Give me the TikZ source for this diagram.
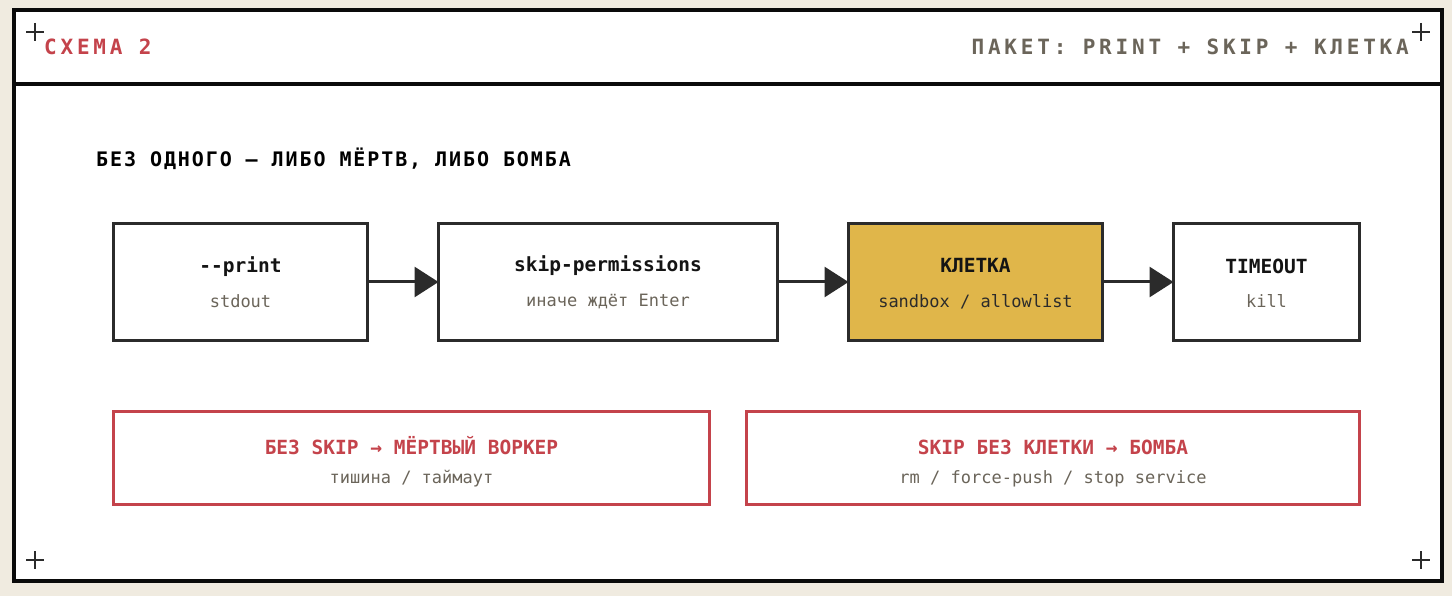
\documentclass[tikz,border=0pt]{standalone}
\usepackage{fontspec}
\setmonofont{DejaVu Sans Mono}
\newfontfamily\hdrfont[LetterSpace=18]{DejaVu Sans Mono}
\newfontfamily\leadfont[LetterSpace=9.5]{DejaVu Sans Mono}
\usetikzlibrary{arrows.meta,positioning}
\definecolor{paper}{HTML}{F0EBE0}
\definecolor{ink}{HTML}{2B2B2B}
\definecolor{warnred}{HTML}{C4434B}
\definecolor{muted}{HTML}{6B655A}
\definecolor{cage}{HTML}{E0B64A}
\newcommand{\stage}[3][17pt]{{\rule{0pt}{#1}\fontsize{19.5}{23}\selectfont\bfseries\color{black!92}#2}\\#3}

\begin{document}
\begin{tikzpicture}[
  x=1pt, y=-1pt,
  node distance=71pt and 71pt,
  box/.style={draw=ink, line width=3pt, fill=white, outer sep=0pt, align=center,
    text=muted, font=\ttfamily\fontsize{17}{35}\selectfont, minimum height=117},
  warn/.style={draw=warnred, line width=3pt, fill=white, outer sep=0pt, align=center,
    text=muted, font=\ttfamily\fontsize{17}{29}\selectfont, minimum height=93},
  arr/.style={-{Triangle[length=24pt,width=30pt]}, line width=3pt, draw=ink},
  corner/.style={line width=2pt, draw=ink}
]
  % paper and frame
  \fill[paper] (0,0) rectangle (1452,596);
  \useasboundingbox (0,0) rectangle (1452,596);
  \draw[line width=4pt, fill=white, draw=black!96] (13.5,10.5) rectangle (1441.5,581);
  \draw[line width=4pt, draw=black!96] (13.5,84.5) -- (1441.5,84.5);
  \foreach \cx/\cy in {35/32, 1421/32, 35/560, 1421/560}
    \draw[corner] (\cx-9,\cy) -- (\cx+9,\cy) (\cx,\cy-9) -- (\cx,\cy+9);

  % header
  \node[anchor=base west, inner sep=0pt, text=warnred, font=\hdrfont\bfseries\fontsize{21}{24}\selectfont]
    (scheme) at (44,55) {СХЕМА 2};
  \node[anchor=base east, inner sep=0pt, text=muted, font=\hdrfont\bfseries\fontsize{21}{24}\selectfont]
    (pack) at (1409,55) {ПАКЕТ: PRINT + SKIP + КЛЕТКА};
  \node[anchor=base west, inner sep=0pt, font=\leadfont\bfseries\fontsize{20}{24}\selectfont]
    (lead) at (96,167) {БЕЗ ОДНОГО — ЛИБО МЁРТВ, ЛИБО БОМБА};

  % pipeline
  \node[box, minimum width=254] (print) at (240.5,282) {\stage{-{}-print}{stdout}};
  \node[box, minimum width=339, right=of print] (skip) {\stage{skip-permissions}{иначе ждёт Enter}};
  \node[box, minimum width=254, fill=cage, right=of skip] (cage) {\stage{КЛЕТКА}{\color{ink}sandbox / allowlist}};
  \node[box, minimum width=186, right=of cage] (tmo) {\stage{TIMEOUT}{kill}};
  \draw[arr] (print) -- (skip);
  \draw[arr] (skip) -- (cage);
  \draw[arr] (cage) -- (tmo);

  % failure modes
  \node[warn, minimum width=596, below=71pt of print.south west, anchor=north west] (dead)
    {\stage[25pt]{\color{warnred}БЕЗ SKIP → МЁРТВЫЙ ВОРКЕР}{тишина / таймаут}};
  \node[warn, minimum width=613, right=37pt of dead] (bomb)
    {\stage[25pt]{\color{warnred}SKIP БЕЗ КЛЕТКИ → БОМБА}{rm / force-push / stop service}};
\end{tikzpicture}
\end{document}
